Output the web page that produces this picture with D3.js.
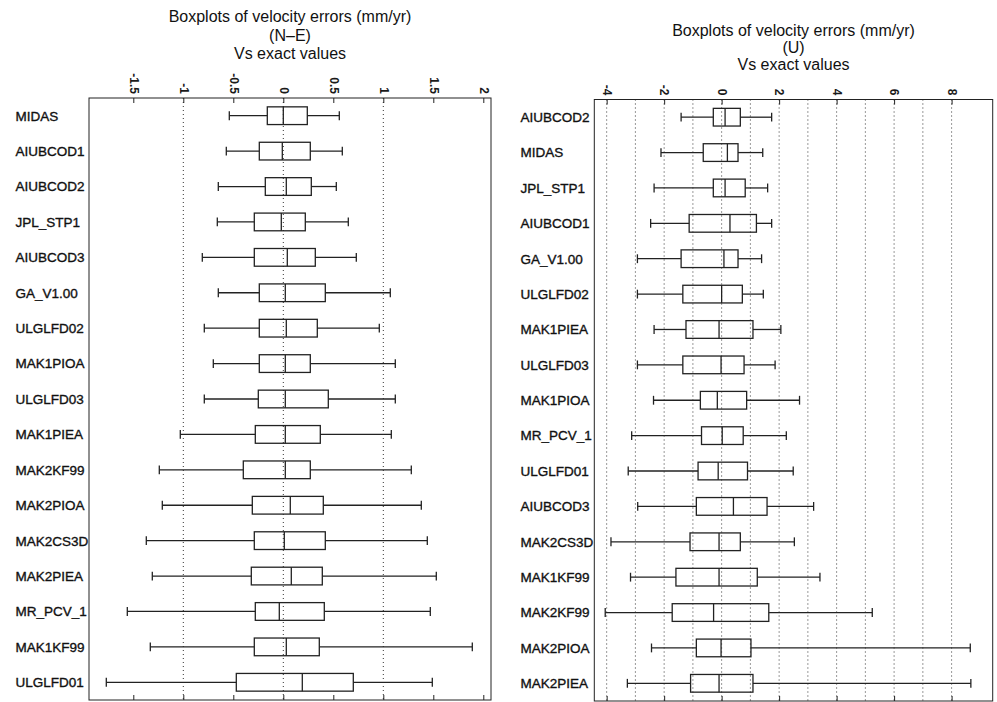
<!DOCTYPE html>
<html>
<head>
<meta charset="utf-8">
<script src="https://cdn.jsdelivr.net/npm/d3@7"></script>
<style>
  body { margin: 0; background: #fff; }
  svg { display: block; font-family: "Liberation Sans", Arial, Helvetica, sans-serif; }
</style>
</head>
<body>
<div id="chart"></div>
<script>
// N-E panel
var neSites = ["MIDAS", "AIUBCOD1", "AIUBCOD2", "JPL_STP1", "AIUBCOD3", "GA_V1.00", "ULGLFD02", "MAK1PIOA", "ULGLFD03",
  "MAK1PIEA", "MAK2KF99", "MAK2PIOA", "MAK2CS3D", "MAK2PIEA", "MR_PCV_1", "MAK1KF99", "ULGLFD01"];
var neLo  = [-0.54, -0.57, -0.65, -0.66, -0.81, -0.65, -0.79, -0.70, -0.79, -1.03, -1.24, -1.21, -1.37, -1.31, -1.56, -1.33, -1.77];
var neQ1  = [-0.16, -0.24, -0.18, -0.29, -0.29, -0.24, -0.24, -0.24, -0.25, -0.28, -0.40, -0.31, -0.29, -0.32, -0.28, -0.29, -0.47];
var neMed = [0.00, -0.01, 0.03, -0.02, 0.04, 0.02, 0.03, 0.02, 0.02, 0.02, 0.02, 0.07, 0.01, 0.08, -0.04, 0.03, 0.19];
var neQ3  = [0.24, 0.27, 0.28, 0.22, 0.32, 0.42, 0.34, 0.27, 0.45, 0.37, 0.27, 0.40, 0.42, 0.39, 0.41, 0.36, 0.70];
var neHi  = [0.56, 0.59, 0.53, 0.65, 0.73, 1.07, 0.96, 1.12, 1.12, 1.08, 1.28, 1.38, 1.44, 1.53, 1.47, 1.89, 1.49];
var neTicks = [-1.5, -1, -0.5, 0, 0.5, 1, 1.5, 2];
var neGrid = [-1, 0, 1];

// U panel
var upSites = ["AIUBCOD2", "MIDAS", "JPL_STP1", "AIUBCOD1", "GA_V1.00", "ULGLFD02", "MAK1PIEA", "ULGLFD03", "MAK1PIOA",
  "MR_PCV_1", "ULGLFD01", "AIUBCOD3", "MAK2CS3D", "MAK1KF99", "MAK2KF99", "MAK2PIOA", "MAK2PIEA"];
var upLo  = [-1.41, -2.11, -2.35, -2.47, -2.93, -2.93, -2.35, -2.93, -2.37, -3.13, -3.25, -2.92, -3.85, -3.17, -4.05, -2.44, -3.28];
var upQ1  = [-0.29, -0.64, -0.29, -1.13, -1.41, -1.35, -1.24, -1.35, -0.74, -0.70, -0.82, -0.88, -1.10, -1.59, -1.72, -0.88, -1.08];
var upMed = [0.12, 0.20, 0.12, 0.29, 0.08, 0.00, -0.09, -0.02, -0.15, 0.02, -0.12, 0.41, -0.09, -0.09, -0.28, -0.02, -0.09];
var upQ3  = [0.65, 0.57, 0.82, 1.21, 0.57, 0.72, 1.09, 0.78, 0.87, 0.75, 0.90, 1.58, 0.65, 1.24, 1.64, 1.02, 1.09];
var upHi  = [1.74, 1.43, 1.60, 1.74, 1.39, 1.45, 2.06, 1.86, 2.71, 2.25, 2.49, 3.20, 2.53, 3.42, 5.24, 8.65, 8.67];
var upTicks = [-4, -2, 0, 2, 4, 6, 8];
var upGrid = [-4, -3, -2, -1, 0, 1, 2, 3, 4, 5, 6, 7, 8];

var svg = d3.select("#chart").append("svg").attr("width", 997).attr("height", 702);

function BoxPanel(opts) {
  this.opts = opts;
  this.g = svg.append("g");
  this.x = d3.scaleLinear().domain(opts.domain).range([opts.left, opts.right]);
  this.y = d3.scaleBand().domain(opts.sites).range([opts.top, opts.bottom]);
  this.rows = opts.sites.map(function(s, i) {
    return { site: s, lo: opts.lo[i], q1: opts.q1[i], med: opts.med[i], q3: opts.q3[i], hi: opts.hi[i] };
  });
}

BoxPanel.prototype.drawTitle = function() {
  var o = this.opts, cx = (o.left + o.right) / 2;
  this.g.selectAll("text.title").data(o.title).enter().append("text")
    .attr("class", "title")
    .attr("x", cx)
    .attr("y", function(d, i) { return o.titleY + i * o.titleGap; })
    .attr("text-anchor", "middle")
    .attr("font-size", 16)
    .attr("fill", "#111")
    .text(function(d) { return d; });
};

BoxPanel.prototype.drawGrid = function() {
  var _this = this, o = this.opts;
  this.g.selectAll("line.grid").data(o.grid).enter().append("line")
    .attr("class", "grid")
    .attr("x1", function(d) { return _this.x(d); })
    .attr("x2", function(d) { return _this.x(d); })
    .attr("y1", o.top).attr("y2", o.bottom)
    .attr("stroke", "#333").attr("stroke-width", 1)
    .attr("stroke-dasharray", "1,3");
};

BoxPanel.prototype.drawAxes = function() {
  var o = this.opts;
  var top = this.g.append("g").attr("transform", "translate(0," + o.top + ")")
    .call(d3.axisTop(this.x).tickValues(o.ticks).tickSizeInner(-5).tickSizeOuter(0)
      .tickFormat(function(d) { return String(d); }));
  top.select(".domain").remove();
  top.selectAll("line").attr("stroke", "#222");
  top.selectAll("text")
    .attr("transform", "rotate(90)")
    .attr("x", -4).attr("y", 0).attr("dy", "0.35em")
    .attr("text-anchor", "end")
    .attr("font-size", 12)
    .attr("font-weight", "bold")
    .attr("font-family", "'Liberation Sans', Arial, sans-serif")
    .attr("fill", "#1a1a1a");

  var bottom = this.g.append("g").attr("transform", "translate(0," + o.bottom + ")")
    .call(d3.axisBottom(this.x).tickValues(o.ticks).tickSizeInner(-5).tickSizeOuter(0).tickFormat(""));
  bottom.select(".domain").remove();
  bottom.selectAll("line").attr("stroke", "#222");

  this.g.append("rect")
    .attr("x", o.left).attr("y", o.top)
    .attr("width", o.right - o.left).attr("height", o.bottom - o.top)
    .attr("fill", "none").attr("stroke", "#222").attr("stroke-width", 1);
};

BoxPanel.prototype.drawLabels = function() {
  var _this = this, o = this.opts;
  // regular face with a thin outline: medium weight like the scanned original
  this.g.selectAll("text.site").data(o.sites).enter().append("text")
    .attr("class", "site")
    .attr("x", o.labelX)
    .attr("y", function(d) { return _this.y(d) + _this.y.bandwidth() / 2; })
    .attr("dy", "0.36em")
    .attr("font-size", 13.5)
    .attr("fill", "#111")
    .attr("stroke", "#111").attr("stroke-width", 0.35)
    .text(function(d) { return d; });
};

BoxPanel.prototype.drawBoxes = function() {
  var _this = this, x = this.x, y = this.y;
  var bw = y.bandwidth(), bh = bw * 0.5, cap = bw * 0.25;
  var box = this.g.selectAll("g.box").data(this.rows).enter().append("g")
    .attr("class", "box")
    .attr("transform", function(d) { return "translate(0," + (y(d.site) + bw / 2) + ")"; })
    .attr("stroke", "#222").attr("stroke-width", 1.3).attr("fill", "none");

  box.append("line").attr("x1", function(d) { return x(d.lo); }).attr("x2", function(d) { return x(d.q1); });
  box.append("line").attr("x1", function(d) { return x(d.q3); }).attr("x2", function(d) { return x(d.hi); });
  box.append("line").attr("x1", function(d) { return x(d.lo); }).attr("x2", function(d) { return x(d.lo); })
    .attr("y1", -cap / 2).attr("y2", cap / 2);
  box.append("line").attr("x1", function(d) { return x(d.hi); }).attr("x2", function(d) { return x(d.hi); })
    .attr("y1", -cap / 2).attr("y2", cap / 2);
  box.append("rect")
    .attr("x", function(d) { return x(d.q1); })
    .attr("y", -bh / 2)
    .attr("width", function(d) { return x(d.q3) - x(d.q1); })
    .attr("height", bh);
  box.append("line").attr("x1", function(d) { return x(d.med); }).attr("x2", function(d) { return x(d.med); })
    .attr("y1", -bh / 2).attr("y2", bh / 2);
};

BoxPanel.prototype.draw = function() {
  this.drawTitle();
  this.drawGrid();
  this.drawAxes();
  this.drawLabels();
  this.drawBoxes();
};

new BoxPanel({
  sites: neSites, lo: neLo, q1: neQ1, med: neMed, q3: neQ3, hi: neHi,
  ticks: neTicks, grid: neGrid, domain: [-1.943, 2.077],
  left: 89, right: 491, top: 98, bottom: 700, labelX: 15.5,
  title: ["Boxplots of velocity errors (mm/yr)", "(N\u2013E)", "Vs exact values"], titleY: 22, titleGap: 18.5
}).draw();

new BoxPanel({
  sites: upSites, lo: upLo, q1: upQ1, med: upMed, q3: upQ3, hi: upHi,
  ticks: upTicks, grid: upGrid, domain: [-4.43, 9.43],
  left: 594.3, right: 992.7, top: 99.5, bottom: 701, labelX: 520.5,
  title: ["Boxplots of velocity errors (mm/yr)", "(U)", "Vs exact values"], titleY: 36, titleGap: 17
}).draw();
</script>
</body>
</html>
